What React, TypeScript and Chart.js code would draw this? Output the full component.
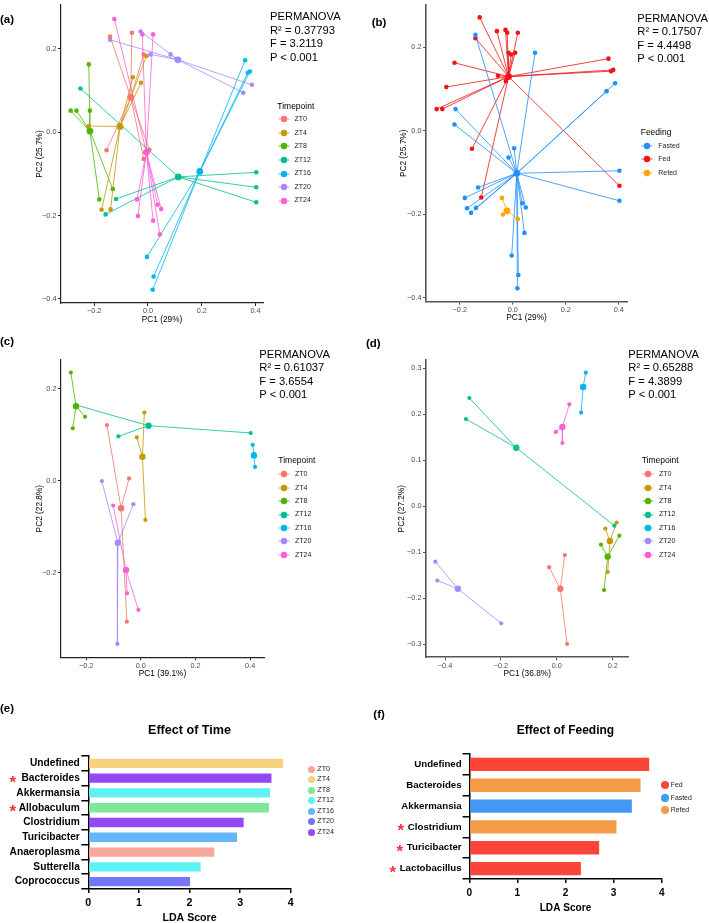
import React, { useEffect, useRef } from 'react';
import { Chart, registerables } from 'chart.js';

Chart.register(...registerables);

const FONT = "'Liberation Sans', Arial, Helvetica, sans-serif";

// ---------------- Panels (a)/(b): PCoA, all samples ----------------
const TIMEPOINTS = ['ZT0', 'ZT4', 'ZT8', 'ZT12', 'ZT16', 'ZT20', 'ZT24'];
const TIME_COLORS = ['#F8766D', '#C49A00', '#53B400', '#00C094', '#00B6EB', '#A58AFF', '#FB61D7'];

const A_ZT0 = [[-0.141, 0.230], [-0.060, 0.239], [-0.016, 0.187], [-0.154, -0.043], [0.005, -0.042], [-0.016, -0.064]];
const A_ZT4 = [[-0.006, 0.183], [-0.056, 0.132], [-0.026, 0.119], [-0.220, 0.015], [-0.1725, -0.186], [-0.139, -0.185]];
const A_ZT8 = [[-0.220, 0.163], [-0.2875, 0.052], [-0.266, 0.052], [-0.216, 0.052], [-0.131, -0.136], [-0.181, -0.161]];
const A_ZT12 = [[-0.251, 0.105], [-0.119, -0.160], [-0.1575, -0.197], [0.4025, -0.096], [0.4025, -0.132], [0.4025, -0.168]];
const A_ZT16 = [[0.361, 0.173], [0.371, 0.143], [0.379, 0.146], [-0.004, -0.299], [0.021, -0.346], [0.0175, -0.378]];
const A_ZT20 = [[-0.141, 0.222], [-0.0275, 0.242], [0.009, 0.187], [0.084, 0.187], [0.354, 0.095], [0.386, 0.114]];
const A_ZT24 = [[-0.125, 0.272], [-0.021, 0.235], [0.019, 0.235], [-0.041, -0.161], [-0.0375, -0.201], [0.019, -0.212], [0.036, -0.174], [0.049, -0.184], [0.044, -0.245]];
const A_CENTROIDS = [[-0.064, 0.084], [-0.104, 0.014], [-0.216, 0.003], [0.1125, -0.107], [0.1925, -0.094], [0.111, 0.174], [-0.006, -0.048]];

const FEED_ZT0 = ['Fasted', 'Fed', 'Fed', 'Fed', 'Fasted', 'Fasted'];
const FEED_ZT4 = ['Fed', 'Fed', 'Fed', 'Fasted', 'Fasted', 'Fasted'];
const FEED_ZT8 = ['Fed', 'Fed', 'Fed', 'Fasted', 'Fasted', 'Fasted'];
const FEED_ZT12 = ['Fed', 'Fed', 'Fasted', 'Fasted', 'Fed', 'Fasted'];
const FEED_ZT16 = ['Fed', 'Fed', 'Fed', 'Fasted', 'Fasted', 'Fasted'];
const FEED_ZT20 = ['Fed', 'Fed', 'Fed', 'Fasted', 'Fasted', 'Fasted'];
const FEED_ZT24 = ['Fed', 'Fed', 'Fed', 'Refed', 'Refed', 'Refed', 'Fasted', 'Fasted', 'Fasted'];
const FEEDING = ['Fasted', 'Fed', 'Refed'];
const FEED_COLORS = ['#1E90FF', '#F01414', '#FFA500'];
const B_CENTROIDS = [[0.015, -0.102], [-0.016, 0.130], [-0.022, -0.192]];

const AB_XTICKS = [-0.2, 0, 0.2, 0.4];
const AB_YTICKS = [-0.4, -0.2, 0, 0.2];

// ---------------- Panel (c) ----------------
const C_ZT0 = [[-0.124, 0.121], [-0.043, 0.005], [-0.051, -0.3065]];
const C_ZT4 = [[0.013, 0.148], [-0.0146, 0.094], [0.0168, -0.0854]];
const C_ZT8 = [[-0.256, 0.235], [-0.204, 0.139], [-0.249, 0.114]];
const C_ZT12 = [[-0.2366, 0.1646], [-0.082, 0.0965], [0.402, 0.1037]];
const C_ZT16 = [[0.4095, 0.078], [0.415, 0.058], [0.418, 0.030]];
const C_ZT20 = [[-0.1426, -0.0007], [-0.027, -0.051], [-0.0856, -0.355]];
const C_ZT24 = [[-0.101, -0.054], [-0.050, -0.245], [-0.0088, -0.281]];
const C_CENTROIDS = [[-0.072, -0.060], [0.006, 0.052], [-0.237, 0.162], [0.028, 0.1196], [0.414, 0.055], [-0.084, -0.135], [-0.054, -0.194]];
const C_XTICKS = [-0.2, 0, 0.2, 0.4];
const C_YTICKS = [-0.2, 0, 0.2];

// ---------------- Panel (d) ----------------
const D_ZT0 = [[0.0286, -0.1065], [-0.0275, -0.133], [0.0368, -0.300]];
const D_ZT4 = [[0.214, -0.036], [0.1736, -0.049], [0.182, -0.1435]];
const D_ZT8 = [[0.2236, -0.0646], [0.158, -0.084], [0.169, -0.1826]];
const D_ZT12 = [[-0.313, 0.2348], [-0.325, 0.189], [0.206, -0.0428]];
const D_ZT16 = [[0.1036, 0.2898], [0.093, 0.258], [0.087, 0.203]];
const D_ZT20 = [[-0.4346, -0.121], [-0.4275, -0.162], [-0.199, -0.255]];
const D_ZT24 = [[0.045, 0.221], [-0.0036, 0.161], [0.020, 0.137]];
const D_CENTROIDS = [[0.0125, -0.180], [0.190, -0.076], [0.182, -0.110], [-0.145, 0.1267], [0.0943, 0.2587], [-0.354, -0.180], [0.020, 0.172]];
const D_XTICKS = [-0.4, -0.2, 0, 0.2];
const D_YTICKS = [-0.3, -0.2, -0.1, 0, 0.1, 0.2, 0.3];

const A_STATS = ['PERMANOVA', 'R\u00B2 = 0.37793', 'F = 3.2119', 'P < 0.001'];
const B_STATS = ['PERMANOVA', 'R\u00B2 = 0.17507', 'F = 4.4498', 'P < 0.001'];
const C_STATS = ['PERMANOVA', 'R\u00B2 = 0.61037', 'F = 3.6554', 'P < 0.001'];
const D_STATS = ['PERMANOVA', 'R\u00B2 = 0.65288', 'F = 4.3899', 'P < 0.001'];

// ---------------- Panel (e) ----------------
const E_TAXA = ['Undefined', 'Bacteroides', 'Akkermansia', 'Allobaculum', 'Clostridium', 'Turicibacter', 'Anaeroplasma', 'Sutterella', 'Coprococcus'];
const E_LDA = [3.85, 3.62, 3.59, 3.57, 3.07, 2.94, 2.49, 2.22, 2.01];
const E_GROUP = ['ZT4', 'ZT24', 'ZT12', 'ZT8', 'ZT24', 'ZT16', 'ZT0', 'ZT12', 'ZT20'];
const E_STARRED = ['Bacteroides', 'Allobaculum'];
const E_COLORS = ['#F6A69B', '#F9D07D', '#7FE896', '#5EF2F5', '#64B8F8', '#7676F5', '#9347F5'];
const LDA_TICKS = [0, 1, 2, 3, 4];

// ---------------- Panel (f) ----------------
const F_TAXA = ['Undefined', 'Bacteroides', 'Akkermansia', 'Clostridium', 'Turicibacter', 'Lactobacillus'];
const F_LDA = [3.74, 3.56, 3.38, 3.06, 2.70, 2.32];
const F_GROUP = ['Fed', 'Refed', 'Fasted', 'Refed', 'Fed', 'Fed'];
const F_STARRED = ['Clostridium', 'Turicibacter', 'Lactobacillus'];
const F_LEGEND = ['Fed', 'Fasted', 'Refed'];
const F_COLORS = ['#FB4539', '#4597F6', '#F39B48'];

// ---------------- helpers ----------------
function withAlpha(hex: string, a: number) {
  const n = parseInt(hex.slice(1), 16);
  return `rgba(${(n >> 16) & 255},${(n >> 8) & 255},${n & 255},${a})`;
}
function fmt(v: number) {
  const r = Math.round(v * 10) / 10;
  return (r < 0 ? '\u2212' : '') + Math.abs(r).toFixed(1);
}

type Box = { left: number; top: number; width: number; height: number };
type Area = { l: number; t: number; r: number; b: number };
type Group = { color: string; points: number[][]; centroid: number[] };

interface ScatterSpec {
  box: Box; area: Area; x: number[]; y: number[]; xTicks: number[]; yTicks: number[];
  xTitle: string; yTitle: string; yTitleX: number; xTitleY: number;
  axisColor: string; axisWidth: number; groups: Group[]; pointR: number; centR: number;
}

function scatterConfig(s: ScatterSpec): any {
  const tickFont = { family: FONT, size: 7.3 };
  const tSize = 8.3;
  const lh = tSize * 1.2;
  const datasets: any[] = [];
  s.groups.forEach((g) => {
    const data: any[] = [];
    g.points.forEach((p) => {
      data.push({ x: g.centroid[0], y: g.centroid[1] }, { x: p[0], y: p[1] }, { x: null, y: null });
    });
    datasets.push({ data, showLine: true, spanGaps: false, borderColor: withAlpha(g.color, 0.8), borderWidth: 1, pointRadius: 0, pointHoverRadius: 0, order: 3, clip: false });
  });
  s.groups.forEach((g) => {
    datasets.push({ data: g.points.map((p) => ({ x: p[0], y: p[1] })), backgroundColor: g.color, borderWidth: 0, pointRadius: s.pointR, order: 2, clip: false });
  });
  s.groups.forEach((g) => {
    datasets.push({ data: [{ x: g.centroid[0], y: g.centroid[1] }], backgroundColor: g.color, borderWidth: 0, pointRadius: s.centR, order: 1, clip: false });
  });
  const bottomGap = s.box.top + s.box.height - s.area.b;
  const zeroPad = (sc: any) => { sc.paddingLeft = 0; sc.paddingRight = 0; sc.paddingTop = 0; sc.paddingBottom = 0; };
  return {
    type: 'scatter',
    data: { datasets },
    options: {
      responsive: false, animation: false, devicePixelRatio: 1, events: [],
      layout: { padding: { left: 0, top: s.area.t - s.box.top, right: s.box.left + s.box.width - s.area.r, bottom: 0 } },
      plugins: { legend: { display: false }, tooltip: { enabled: false }, title: { display: false } },
      scales: {
        x: {
          type: 'linear', min: s.x[0], max: s.x[1],
          afterBuildTicks: (sc: any) => { sc.ticks = s.xTicks.map((v) => ({ value: v })); },
          afterFit: (sc: any) => { sc.height = bottomGap; zeroPad(sc); },
          ticks: { font: tickFont, color: '#4D4D4D', padding: 1, maxRotation: 0, autoSkip: false, callback: (v: any) => fmt(Number(v)) },
          grid: { drawOnChartArea: false, drawTicks: true, tickLength: 3, color: s.axisColor, lineWidth: 1 },
          border: { display: true, color: s.axisColor, width: s.axisWidth },
          title: { display: true, text: s.xTitle, color: '#000', font: { family: FONT, size: tSize, lineHeight: 1.2 }, padding: { top: 0, bottom: s.box.top + s.box.height - s.xTitleY - lh / 2 } },
        },
        y: {
          type: 'linear', min: s.y[0], max: s.y[1],
          afterBuildTicks: (sc: any) => { sc.ticks = s.yTicks.map((v) => ({ value: v })); },
          afterFit: (sc: any) => { sc.width = s.area.l - s.box.left; zeroPad(sc); },
          ticks: { font: tickFont, color: '#4D4D4D', padding: 1.5, autoSkip: false, callback: (v: any) => fmt(Number(v)) },
          grid: { drawOnChartArea: false, drawTicks: true, tickLength: 3, color: s.axisColor, lineWidth: 1 },
          border: { display: true, color: s.axisColor, width: s.axisWidth },
          title: { display: true, text: s.yTitle, color: '#000', font: { family: FONT, size: tSize, lineHeight: 1.2 }, padding: { top: s.yTitleX - s.box.left - lh / 2, bottom: 0 } },
        },
      },
    },
  };
}

interface BarSpec {
  box: Box; area: Area; labels: string[]; values: number[]; colors: string[];
  title: string; titleCy: number; titleSize: number; yFont: number; yTickLen: number; yPad: number;
  xFont: number; xTitleCy: number; xTickPad: number; barPct: number;
  stars: string[]; starX: number | null; starGap: number;
}

function barConfig(b: BarSpec): any {
  const tlh = b.titleSize * 1.2;
  const titleTop = b.titleCy - b.box.top - tlh / 2;
  const titleBottom = b.area.t - b.box.top - (titleTop + tlh);
  const bottomGap = b.box.top + b.box.height - b.area.b;
  const zeroPad = (sc: any) => { sc.paddingLeft = 0; sc.paddingRight = 0; sc.paddingTop = 0; sc.paddingBottom = 0; };
  const labelFont = `bold ${b.yFont}px ${FONT}`;
  const starPlugin = {
    id: 'stars',
    afterDraw(chart: any) {
      const ys = chart.scales.y;
      const ctx = chart.ctx;
      ctx.save();
      b.stars.forEach((name) => {
        const i = b.labels.indexOf(name);
        const y = ys.getPixelForValue(i);
        let x: number;
        if (b.starX !== null) {
          x = b.starX - b.box.left;
        } else {
          ctx.font = labelFont;
          const w = ctx.measureText(name).width;
          x = ys.right - b.yTickLen - b.yPad - w - b.starGap;
        }
        ctx.font = `bold 17px ${FONT}`;
        ctx.fillStyle = '#F4333D';
        ctx.textAlign = 'center';
        ctx.textBaseline = 'alphabetic';
        ctx.fillText('*', x, y + 0.555 * 17);
      });
      ctx.restore();
    },
  };
  return {
    type: 'bar',
    data: {
      labels: b.labels,
      datasets: [{ data: b.values, backgroundColor: b.colors, borderWidth: 0, barPercentage: b.barPct, categoryPercentage: 1 }],
    },
    plugins: [starPlugin],
    options: {
      indexAxis: 'y', responsive: false, animation: false, devicePixelRatio: 1, events: [],
      layout: { padding: { left: 0, top: 0, right: b.box.left + b.box.width - b.area.r, bottom: 0 } },
      plugins: {
        legend: { display: false }, tooltip: { enabled: false },
        title: {
          display: true, text: b.title, fullSize: false, color: '#000',
          font: { family: FONT, size: b.titleSize, weight: 'bold', lineHeight: 1.2 },
          padding: { top: titleTop, bottom: titleBottom },
        },
      },
      scales: {
        x: {
          type: 'linear', min: 0, max: 4,
          afterBuildTicks: (sc: any) => { sc.ticks = LDA_TICKS.map((v) => ({ value: v })); },
          afterFit: (sc: any) => { sc.height = bottomGap; zeroPad(sc); },
          ticks: { font: { family: FONT, size: b.xFont, weight: 'bold' }, color: '#000', padding: b.xTickPad, maxRotation: 0 },
          grid: { drawOnChartArea: false, drawTicks: true, tickLength: 4, color: '#000', lineWidth: 1.5 },
          border: { display: true, color: '#000', width: 1.5 },
          title: {
            display: true, text: 'LDA Score', color: '#000',
            font: { family: FONT, size: b.xFont, weight: 'bold', lineHeight: 1 },
            padding: { top: 0, bottom: b.box.top + b.box.height - b.xTitleCy - b.xFont / 2 },
          },
        },
        y: {
          type: 'category',
          afterFit: (sc: any) => { sc.width = b.area.l - b.box.left; zeroPad(sc); },
          ticks: { font: { family: FONT, size: b.yFont, weight: 'bold' }, color: '#000', padding: b.yPad, autoSkip: false },
          grid: { drawOnChartArea: false, drawTicks: true, tickLength: b.yTickLen, color: '#000', lineWidth: 1.5 },
          border: { display: true, color: '#000', width: 1.5 },
        },
      },
    },
  };
}

function ChartCanvas({ box, make }: { box: Box; make: () => any }) {
  const ref = useRef<HTMLCanvasElement>(null);
  useEffect(() => {
    const chart = new Chart(ref.current as HTMLCanvasElement, make());
    return () => chart.destroy();
  }, []);
  return (
    <canvas
      ref={ref}
      width={box.width}
      height={box.height}
      style={{ position: 'absolute', left: box.left, top: box.top, width: box.width, height: box.height }}
    />
  );
}

function Txt({ x, cy, size, bold, color, children }: any) {
  return (
    <div style={{ position: 'absolute', left: x, top: cy - size * 0.6, fontSize: size, lineHeight: `${size * 1.2}px`, fontWeight: bold ? 700 : 400, color: color || '#000', whiteSpace: 'nowrap', fontFamily: FONT }}>
      {children}
    </div>
  );
}

function Stats({ x, cy, lines }: { x: number; cy: number; lines: string[] }) {
  return (
    <>
      {lines.map((t, i) => (
        <Txt key={i} x={x} cy={cy + i * 13.6} size={11.2}>{t}</Txt>
      ))}
    </>
  );
}

function ScatterLegend({ title, titleX, titleCy, keyCx, textX, firstCy, step, labels, colors }: any) {
  return (
    <>
      <Txt x={titleX} cy={titleCy} size={8.5}>{title}</Txt>
      {labels.map((l: string, i: number) => {
        const cy = firstCy + i * step;
        return (
          <React.Fragment key={l}>
            <svg width={14} height={10} style={{ position: 'absolute', left: keyCx - 7, top: cy - 5 }}>
              <line x1={1.5} y1={5} x2={12.5} y2={5} stroke={withAlpha(colors[i], 0.8)} strokeWidth={1} />
              <circle cx={7} cy={5} r={3.2} fill={colors[i]} />
            </svg>
            <Txt x={textX} cy={cy} size={7} color="#222">{l}</Txt>
          </React.Fragment>
        );
      })}
    </>
  );
}

function DotLegend({ dotCx, textX, firstCy, step, r, size, labels, colors }: any) {
  return (
    <>
      {labels.map((l: string, i: number) => {
        const cy = firstCy + i * step;
        return (
          <React.Fragment key={l}>
            <div style={{ position: 'absolute', left: dotCx - r, top: cy - r, width: 2 * r, height: 2 * r, borderRadius: '50%', background: colors[i] }} />
            <Txt x={textX} cy={cy} size={size} color="#222">{l}</Txt>
          </React.Fragment>
        );
      })}
    </>
  );
}

const A_POINTS = [A_ZT0, A_ZT4, A_ZT8, A_ZT12, A_ZT16, A_ZT20, A_ZT24];
const A_FEEDS = [FEED_ZT0, FEED_ZT4, FEED_ZT8, FEED_ZT12, FEED_ZT16, FEED_ZT20, FEED_ZT24];
const C_POINTS = [C_ZT0, C_ZT4, C_ZT8, C_ZT12, C_ZT16, C_ZT20, C_ZT24];
const D_POINTS = [D_ZT0, D_ZT4, D_ZT8, D_ZT12, D_ZT16, D_ZT20, D_ZT24];

function timeGroups(points: number[][][], cents: number[][]): Group[] {
  return points.map((pts, i) => ({ color: TIME_COLORS[i], points: pts, centroid: cents[i] }));
}
function feedGroups(): Group[] {
  return FEEDING.map((f, gi) => {
    const pts: number[][] = [];
    A_POINTS.forEach((arr, ti) => arr.forEach((p, pi) => { if (A_FEEDS[ti][pi] === f) pts.push(p); }));
    return { color: FEED_COLORS[gi], points: pts, centroid: B_CENTROIDS[gi] };
  });
}

const BOX_A = { left: 0, top: 0, width: 355, height: 330 };
const BOX_B = { left: 355, top: 0, width: 354, height: 330 };
const BOX_C = { left: 0, top: 330, width: 355, height: 355 };
const BOX_D = { left: 355, top: 330, width: 354, height: 355 };
const BOX_E = { left: 0, top: 690, width: 355, height: 233 };
const BOX_F = { left: 355, top: 690, width: 354, height: 233 };

export default function App() {
  const specA: ScatterSpec = {
    box: BOX_A, area: { l: 61, t: 5, r: 263, b: 303 }, x: [-0.3234, 0.4275], y: [-0.4097, 0.3055],
    xTicks: AB_XTICKS, yTicks: AB_YTICKS, xTitle: 'PC1 (29%)', yTitle: 'PC2 (25.7%)', yTitleX: 39.3, xTitleY: 319.3,
    axisColor: '#222', axisWidth: 1.2, groups: timeGroups(A_POINTS, A_CENTROIDS), pointR: 2.3, centR: 3.4,
  };
  const specB: ScatterSpec = {
    box: BOX_B, area: { l: 426, t: 5, r: 627, b: 301.7 }, x: [-0.3275, 0.431], y: [-0.410, 0.3017],
    xTicks: AB_XTICKS, yTicks: AB_YTICKS, xTitle: 'PC1 (29%)', yTitle: 'PC2 (25.7%)', yTitleX: 403.3, xTitleY: 317.5,
    axisColor: '#555', axisWidth: 1.6, groups: feedGroups(), pointR: 2.3, centR: 3.4,
  };
  const specC: ScatterSpec = {
    box: BOX_C, area: { l: 61, t: 360, r: 264, b: 657.3 }, x: [-0.292, 0.4508], y: [-0.384, 0.2624],
    xTicks: C_XTICKS, yTicks: C_YTICKS, xTitle: 'PC1 (39.1%)', yTitle: 'PC2 (22.8%)', yTitleX: 39.3, xTitleY: 673.3,
    axisColor: '#222', axisWidth: 1.2, groups: timeGroups(C_POINTS, C_CENTROIDS), pointR: 2.1, centR: 3.2,
  };
  const specD: ScatterSpec = {
    box: BOX_D, area: { l: 426, t: 360, r: 628.3, b: 657.3 }, x: [-0.468, 0.2558], y: [-0.3289, 0.3174],
    xTicks: D_XTICKS, yTicks: D_YTICKS, xTitle: 'PC1 (36.8%)', yTitle: 'PC2 (27.2%)', yTitleX: 401.7, xTitleY: 673.3,
    axisColor: '#555', axisWidth: 1.6, groups: timeGroups(D_POINTS, D_CENTROIDS), pointR: 2.1, centR: 3.2,
  };
  const specE: BarSpec = {
    box: BOX_E, area: { l: 88.3, t: 756, r: 290.7, b: 889 }, labels: E_TAXA, values: E_LDA,
    colors: E_GROUP.map((g) => E_COLORS[TIMEPOINTS.indexOf(g)]),
    title: 'Effect of Time', titleCy: 731, titleSize: 12.6, yFont: 10.2, yTickLen: 7, yPad: 1.5,
    xFont: 10.6, xTitleCy: 918.3, xTickPad: 4, barPct: 0.63, stars: E_STARRED, starX: 12.7, starGap: 0,
  };
  const specF: BarSpec = {
    box: BOX_F, area: { l: 469.3, t: 754, r: 661.7, b: 879 }, labels: F_TAXA, values: F_LDA,
    colors: F_GROUP.map((g) => F_COLORS[F_LEGEND.indexOf(g)]),
    title: 'Effect of Feeding', titleCy: 731, titleSize: 12, yFont: 9.7, yTickLen: 6.7, yPad: 1,
    xFont: 10.1, xTitleCy: 908.3, xTickPad: 4, barPct: 0.64, stars: F_STARRED, starX: null, starGap: 7,
  };

  return (
    <div style={{ position: 'absolute', left: 0, top: 0, width: 709, height: 923, background: '#fff', overflow: 'hidden', fontFamily: FONT }}>
      <ChartCanvas box={BOX_A} make={() => scatterConfig(specA)} />
      <ChartCanvas box={BOX_B} make={() => scatterConfig(specB)} />
      <ChartCanvas box={BOX_C} make={() => scatterConfig(specC)} />
      <ChartCanvas box={BOX_D} make={() => scatterConfig(specD)} />
      <ChartCanvas box={BOX_E} make={() => barConfig(specE)} />
      <ChartCanvas box={BOX_F} make={() => barConfig(specF)} />

      <Txt x={0} cy={20} size={11.5} bold>(a)</Txt>
      <Txt x={371.7} cy={22.7} size={11.5} bold>(b)</Txt>
      <Txt x={0} cy={342} size={11.5} bold>(c)</Txt>
      <Txt x={366} cy={344} size={11.5} bold>(d)</Txt>
      <Txt x={0} cy={708.7} size={11.5} bold>(e)</Txt>
      <Txt x={373.3} cy={715.3} size={11.5} bold>(f)</Txt>

      <Stats x={270} cy={16.7} lines={A_STATS} />
      <Stats x={637.3} cy={18.3} lines={B_STATS} />
      <Stats x={259.3} cy={354.3} lines={C_STATS} />
      <Stats x={628.3} cy={354.3} lines={D_STATS} />

      <ScatterLegend title="Timepoint" titleX={277.3} titleCy={106} keyCx={283.7} textX={294.5} firstCy={119.3} step={13.55} labels={TIMEPOINTS} colors={TIME_COLORS} />
      <ScatterLegend title="Feeding" titleX={640.7} titleCy={131.7} keyCx={646.7} textX={658.3} firstCy={145.7} step={13.5} labels={FEEDING} colors={FEED_COLORS} />
      <ScatterLegend title="Timepoint" titleX={278.3} titleCy={460} keyCx={284} textX={295} firstCy={474.3} step={13.4} labels={TIMEPOINTS} colors={TIME_COLORS} />
      <ScatterLegend title="Timepoint" titleX={641.7} titleCy={460} keyCx={648.3} textX={659} firstCy={474.3} step={13.4} labels={TIMEPOINTS} colors={TIME_COLORS} />

      <DotLegend dotCx={311.7} textX={317.3} firstCy={769.3} step={10.5} r={3.7} size={7.2} labels={TIMEPOINTS} colors={E_COLORS} />
      <DotLegend dotCx={665} textX={670.7} firstCy={785} step={12.65} r={4} size={6.9} labels={F_LEGEND} colors={F_COLORS} />
    </div>
  );
}
